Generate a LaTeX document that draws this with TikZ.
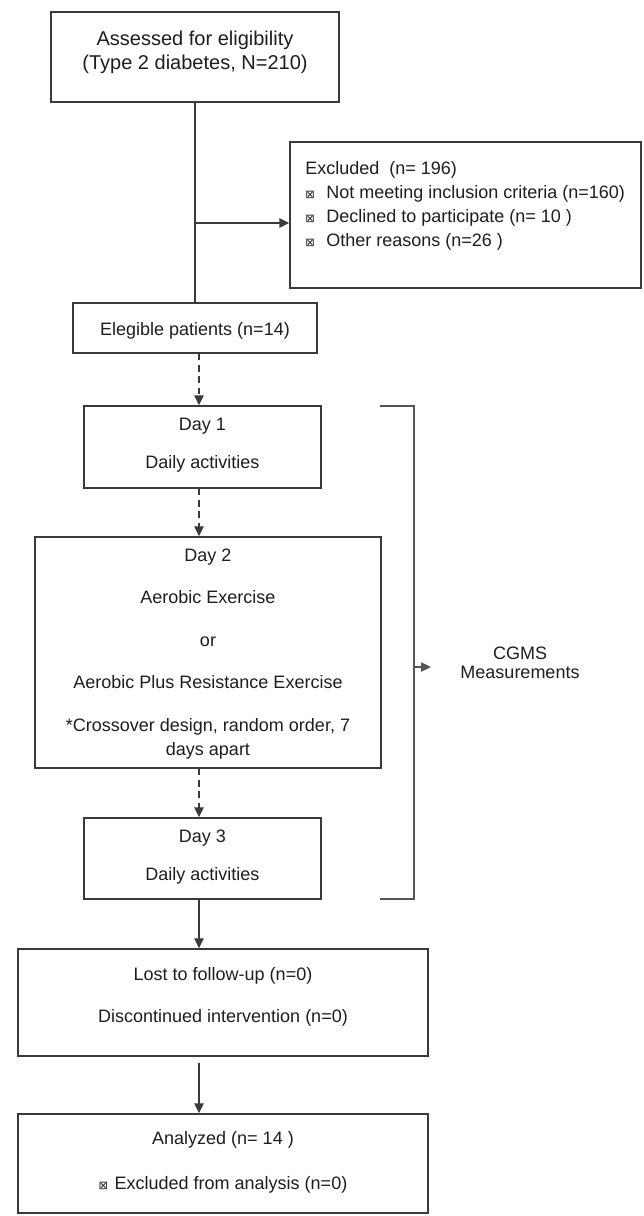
\documentclass[tikz,border=0pt]{standalone}
\usepackage{fontspec}
\setmainfont{Liberation Sans}
\newfontfamily\dejavu{DejaVu Sans}
\usetikzlibrary{arrows.meta,fit}
\definecolor{linegray}{HTML}{3A3A3A}
\definecolor{brkgray}{HTML}{555555}
\definecolor{textblack}{HTML}{1E1E1E}
\newcommand\xmk{{\dejavu\fontsize{8.5}{8.5}\selectfont ⊠}}
\begin{document}
\begin{tikzpicture}[x=0.75pt,y=-0.75pt,
  box/.style={draw=linegray, line width=1.1pt, inner sep=0pt},
  txt/.style={inner sep=0pt, align=center, font=\fontsize{13.5}{18}\selectfont, text=textblack},
  plain/.style={draw=linegray, line width=1.1pt},
  arr/.style={plain, -{Triangle[length=7.5pt,width=7pt]}},
  dasharr/.style={arr, dash pattern=on 5pt off 3.5pt},
  brk/.style={draw=brkgray, line width=0.9pt},
  brkarr/.style={brk, -{Triangle[length=7.5pt,width=7pt]}}]
\useasboundingbox (0,0) rectangle (643,1216);
\fill[white] (0,0) rectangle (643,1216);

% boxes
\node[box, fit={(51,12) (339,102)}] (b1) {};
\node[txt, font=\fontsize{15}{18}\selectfont] (t1) at (195,52) {Assessed for eligibility\\(Type 2 diabetes, N=210)};

\node[box, fit={(290,142) (641,288)}] (excl) {};
\node[txt, align=left, anchor=west] (texcl) at (305,206)
  {Excluded\ \ (n= 196)\\
   \makebox[15.75pt][l]{\xmk}Not meeting inclusion criteria (n=160)\\
   \makebox[15.75pt][l]{\xmk}Declined to participate (n= 10 )\\
   \makebox[15.75pt][l]{\xmk}Other reasons (n=26 )};

\node[box, fit={(73,303) (317,353)}] (elig) {};
\node[txt] (telig) at (195,331) {Elegible patients (n=14)};

\node[box, fit={(84,406) (321,488)}] (d1) {};
\node[txt] (td1) at (202.5,445) {Day 1\\[10.5pt]Daily activities};

\node[box, fit={(35,537) (381,768)}] (d2) {};
\node[txt] (td2) at (208,654) {Day 2\\[13.9pt]Aerobic Exercise\\[13.9pt]or\\[13.9pt]Aerobic Plus Resistance Exercise\\[13.9pt]*Crossover design, random order, 7\\days apart};

\node[box, fit={(84,818) (321,899)}] (d3) {};
\node[txt] (td3) at (202.5,857) {Day 3\\[10.5pt]Daily activities};

\node[box, fit={(18,949) (428,1056)}] (lost) {};
\node[txt] (tlost) at (223,997) {Lost to follow-up (n=0)\\[13.5pt]Discontinued intervention (n=0)};

\node[box, fit={(18,1114) (428,1213)}] (anal) {};
\node[txt] (tanal) at (223,1162.5) {Analyzed (n= 14 )\\[15.75pt]\makebox[12pt][l]{\xmk}Excluded from analysis (n=0)};

\node[txt, font=\fontsize{13.5}{14.25}\selectfont] (cgms) at (520,663) {CGMS\\Measurements};

% connectors
\coordinate (ax) at (199,0);
\coordinate (br) at (195,223);
\draw[plain] (b1.south) -- (elig.north -| b1.south);
\draw[arr] (br) -- (excl.west |- br);
\draw[dasharr] (elig.south -| ax) -- (d1.north -| ax);
\draw[dasharr] (d1.south -| ax) -- (d2.north -| ax);
\draw[dasharr] (d2.south -| ax) -- (d3.north -| ax);
\draw[arr] (d3.south -| ax) -- (lost.north -| ax);
\coordinate (lo) at (199,1063);
\draw[arr] (lo) -- (anal.north -| lo);

% bracket
\coordinate (bt) at (380,406);
\coordinate (btr) at (414,406);
\coordinate (bbr) at (414,899);
\coordinate (bb) at (380,899);
\draw[brk] (bt) -- (btr) -- (bbr) -- (bb);
\coordinate (bm) at (414,667);
\coordinate (bme) at (431,667);
\draw[brkarr] (bm) -- (bme);
\end{tikzpicture}
\end{document}
